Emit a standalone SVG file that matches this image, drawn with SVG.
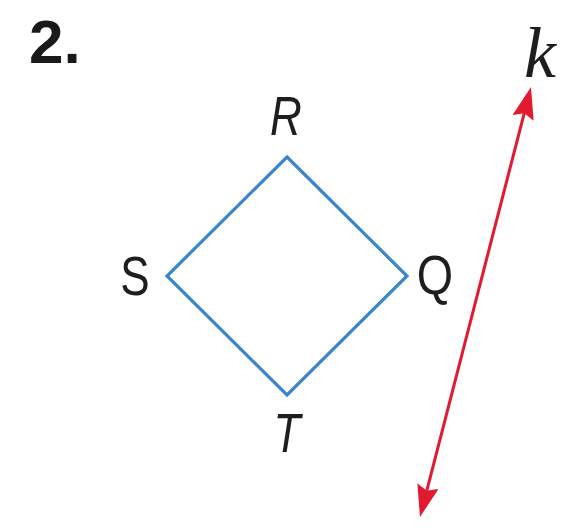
<svg xmlns="http://www.w3.org/2000/svg" width="566" height="531" viewBox="0 0 566 531">
  <style>
    .lbl { font-family: "Liberation Sans", Arial, sans-serif; font-size: 55px; fill: #1e1e1e; text-anchor: middle; }
    .it { font-style: italic; }
    .num { font-family: "Liberation Sans", Arial, sans-serif; font-size: 62px; font-weight: bold; fill: #1a1a1a; }
    .kl { font-family: "Liberation Serif", "Times New Roman", serif; font-style: italic; font-size: 72px; fill: #1e1e1e; }
    .quad { fill: none; stroke: #3b86c9; stroke-width: 3.2; stroke-linejoin: miter; }
    .line { stroke: #e21a30; stroke-width: 3; fill: none; }
  </style>
  <defs>
    <marker id="arrow" viewBox="0 0 32 22" refX="26" refY="11" markerUnits="userSpaceOnUse" markerWidth="32" markerHeight="22" orient="auto-start-reverse" preserveAspectRatio="none">
      <path d="M0,0 L32,11 L0,22 L5,11 z" fill="#e21a30"/>
    </marker>
  </defs>
  <rect width="566" height="531" fill="#ffffff"/>

  <g id="title">
    <text class="num" x="29" y="63">2.</text>
  </g>

  <g id="quadrilateral">
    <polygon class="quad" points="287,157 407,276 287,395 167,276"/>
  </g>

  <g id="node-R"><text class="lbl it" transform="translate(286,135) scale(0.8,1)">R</text></g>
  <g id="node-S"><text class="lbl" transform="translate(135,295) scale(0.8,1)">S</text></g>
  <g id="node-Q"><text class="lbl" transform="translate(435,294) scale(0.85,1)">Q</text></g>
  <g id="node-T"><text class="lbl it" transform="translate(287,452) scale(0.8,1)">T</text></g>
  <g id="label-k"><text class="kl" x="524" y="77">k</text></g>

  <g id="connectors">
    <line class="line" x1="421.5" y1="511.2" x2="529.5" y2="92.8" marker-start="url(#arrow)" marker-end="url(#arrow)"/>
  </g>
</svg>
